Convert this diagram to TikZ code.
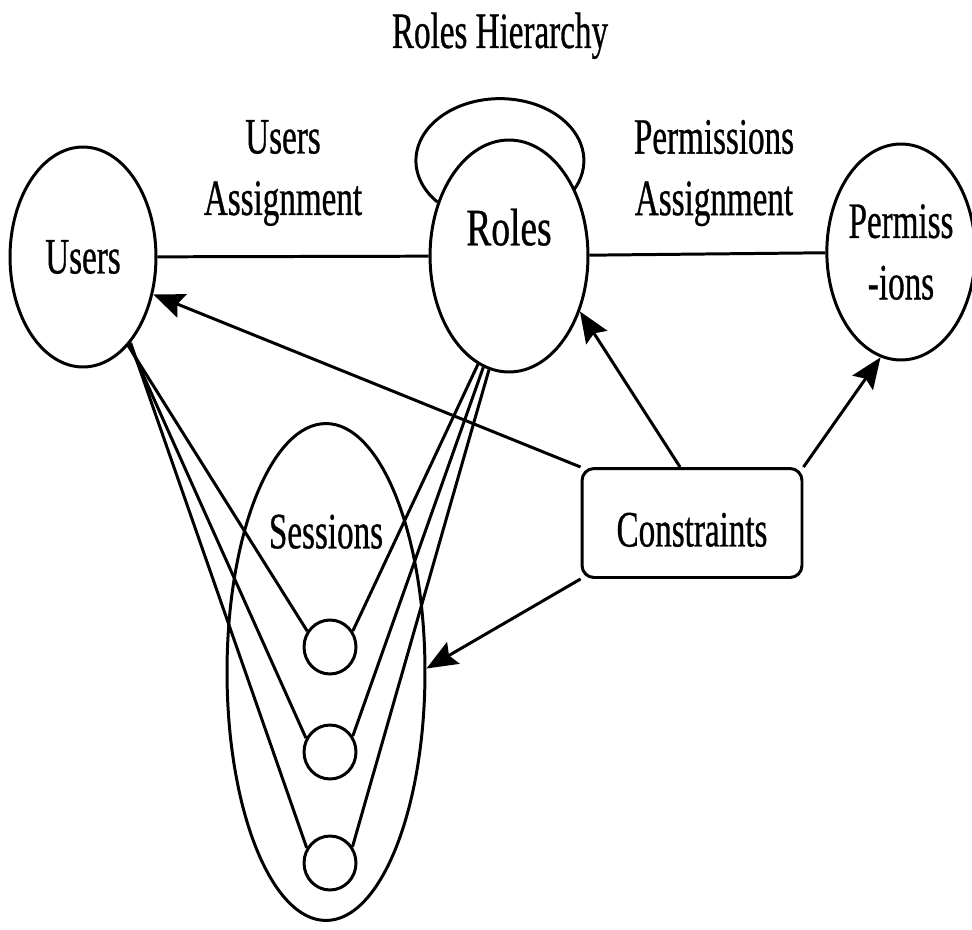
\documentclass[tikz,border=0pt]{standalone}
\usepackage{fontspec}
\setmainfont{Liberation Serif}[FakeStretch=0.65,FakeBold=0.6]
\newfontfamily\rolesfont{Liberation Serif}[FakeStretch=0.71,FakeBold=0.6]
\usetikzlibrary{shapes.geometric,arrows.meta}
\begin{document}
\begin{tikzpicture}[x=0.02cm,y=-0.02cm,
  every node/.style={font=\fontsize{29}{35}\selectfont},
  oval/.style={ellipse,draw,line width=1.7pt,inner sep=0pt},
  session/.style={ellipse,draw,line width=1.7pt,inner sep=0pt,minimum width=1.04cm,minimum height=1.08cm},
  link/.style={line width=1.7pt},
  arr/.style={line width=1.7pt,-{Stealth[length=0.62cm,width=0.5cm,inset=0.1cm]}},
  cbox/.style={draw,rectangle,rounded corners=0.24cm,line width=1.7pt,minimum width=4.4cm,minimum height=2.18cm,inner sep=0pt}]
\useasboundingbox (0,0) rectangle (972,929);

% main entities
\node[oval,minimum width=2.92cm,minimum height=4.4cm] (users) at (83,257) {Users};
\node[oval,minimum width=3.16cm,minimum height=4.64cm,text depth=33pt,font=\fontsize{30}{36}\rolesfont] (roles) at (509,256) {Roles};
\node[oval,minimum width=2.84cm,minimum height=4.32cm,align=center] (perms) at (901,252) {Permiss\\-ions};
\node[oval,minimum width=3.96cm,minimum height=9.94cm,text depth=160pt] (sess) at (326,672) {Sessions};
\node[cbox,text height=27pt] (cons) at (692,523) {Constraints};

% individual sessions
\node[session] (s1) at (330,647) {};
\node[session] (s2) at (330,752) {};
\node[session] (s3) at (330,863) {};

% relation labels
\node[anchor=base] (rh) at (500,48) {Roles Hierarchy};
\node[align=center] (ua) at (283,173) {Users\\Assignment};
\node[align=center] (pa) at (714,173) {Permissions\\Assignment};

% assignments
\draw[link] (users) -- (roles);
\draw[link] (roles) -- (perms);

% role hierarchy loop
\draw[link] (roles.143) arc[start angle=222,end angle=-29,x radius=1.68cm,y radius=1.24cm];

% users and roles to sessions
\draw[link] (users.-63) -- (s1.145);
\draw[link] (users.-62) -- (s2.150);
\draw[link] (users.-61) -- (s3.147);
\draw[link] (roles.-106) -- (s1.35);
\draw[link] (roles.-103) -- (s2.35);
\draw[link] (roles.-100) -- (s3.36);

% constraints
\draw[arr] (cons.north west) -- (users.-28);
\draw[arr] ([xshift=-0.24cm]cons.north) -- (roles.-38);
\draw[arr] (cons.north east) -- (perms.-101);
\draw[arr] (cons.south west) -- (sess.2);
\end{tikzpicture}
\end{document}
